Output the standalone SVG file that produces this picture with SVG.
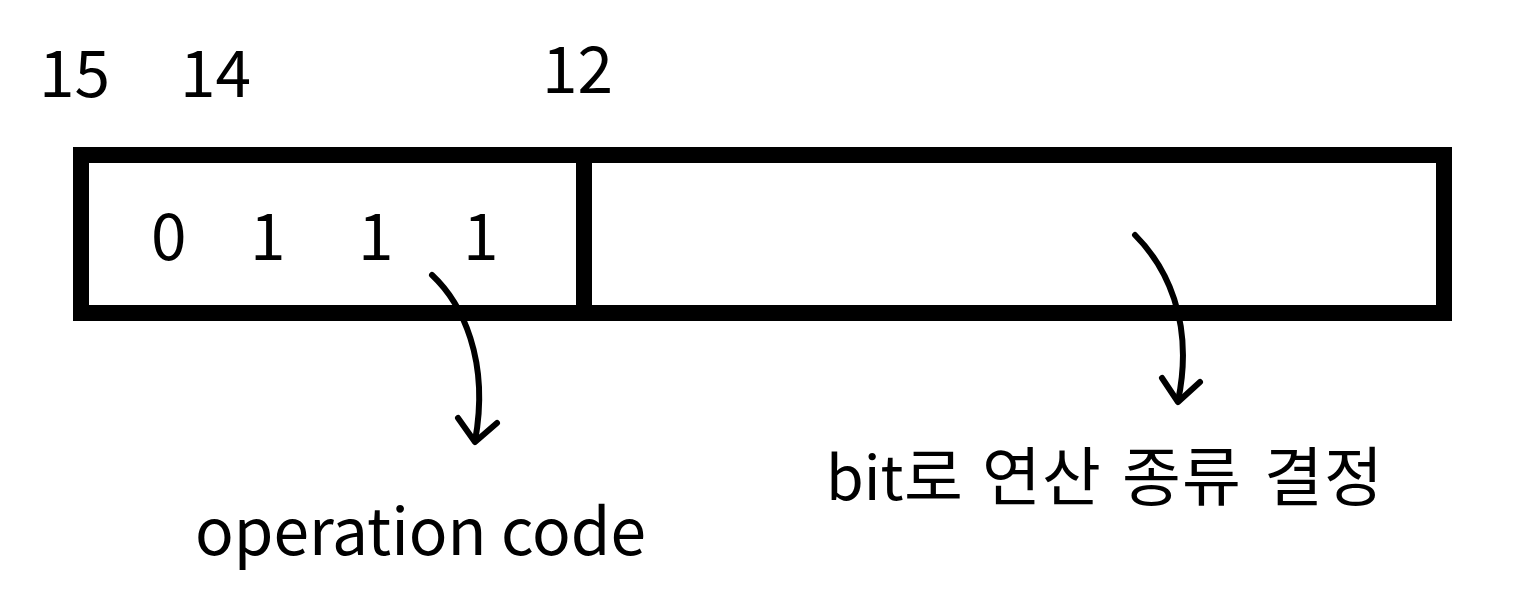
<svg xmlns="http://www.w3.org/2000/svg" width="1517" height="599" viewBox="0 0 1517 599">
<style>
.t{font-family:"Noto Sans CJK KR","Noto Sans",sans-serif;fill:#000;font-size:64px}
.box{fill:none;stroke:#000;stroke-width:16}
.arr{fill:none;stroke:#000;stroke-width:6;stroke-linecap:round;stroke-linejoin:round}
</style>
<rect width="1517" height="599" fill="#fff"/>
<g id="bit-labels">
<text class="t" x="39" y="97">15</text>
<text class="t" x="180" y="97">14</text>
<text class="t" x="542" y="93">12</text>
</g>
<g id="register">
<rect class="box" x="81" y="155" width="1363" height="158"/>
<line class="box" x1="584" y1="155" x2="584" y2="313"/>
</g>
<g id="opcode-bits">
<text class="t" x="151" y="260">0</text>
<text class="t" x="250" y="260">1</text>
<text class="t" x="358" y="260">1</text>
<text class="t" x="463" y="260">1</text>
</g>
<g id="connectors">
<path class="arr" d="M432,275 C462,303 490,360 475,441"/>
<path class="arr" d="M458,418 L475,442 L497,423"/>
<path class="arr" d="M1135,235 C1165,265 1195,320 1178,401"/>
<path class="arr" d="M1162,378 L1178,402 L1200,382"/>
</g>
<g id="label-opcode">
<text class="t" x="195" y="555">operation code</text>
</g>
<g id="label-operation">
<text class="t" y="500"><tspan x="826" style="font-size:61px">bit</tspan><tspan x="904">로</tspan> <tspan x="982 1042">연산</tspan> <tspan x="1122 1182">종류</tspan> <tspan x="1264 1324">결정</tspan></text>
</g>
</svg>
